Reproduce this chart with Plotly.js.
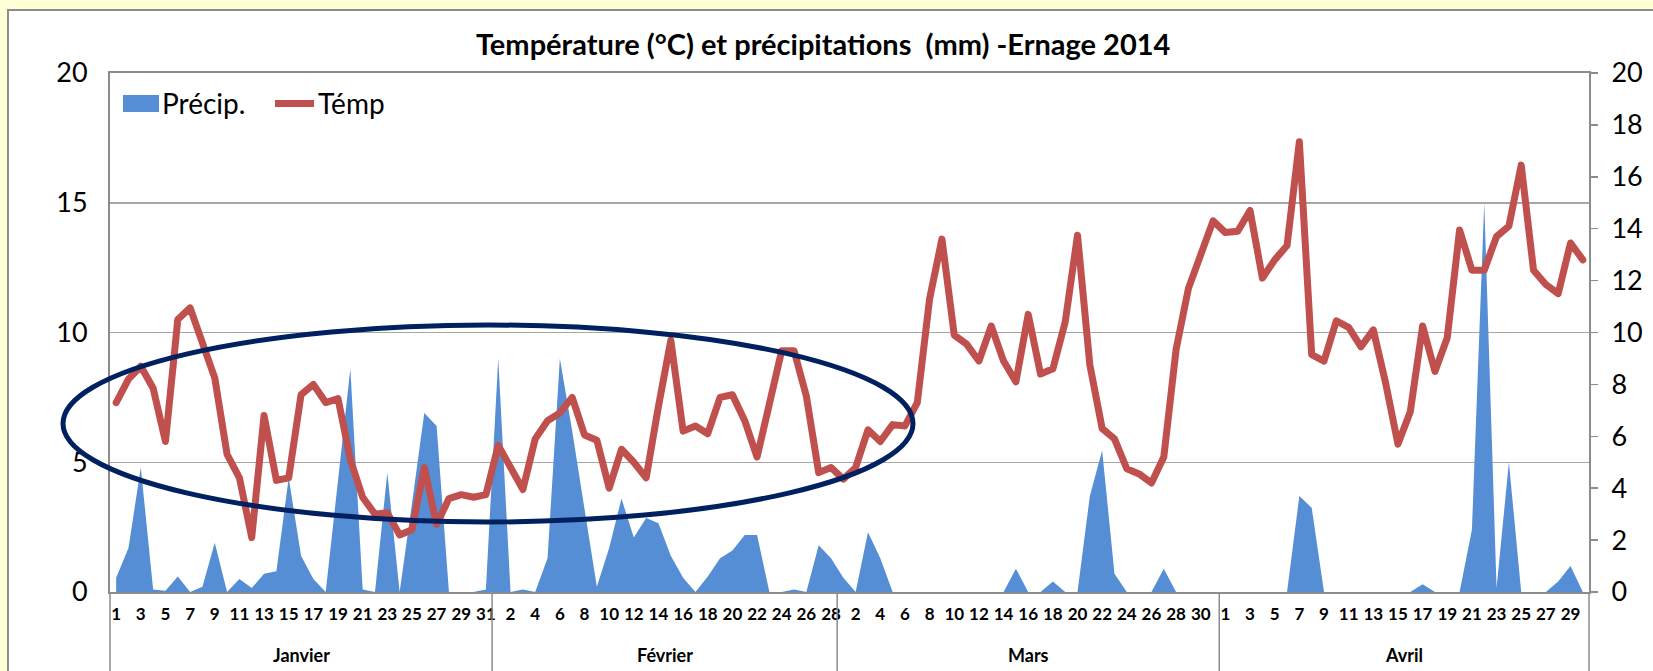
<!DOCTYPE html>
<html>
<head>
<meta charset="utf-8">
<script src="https://cdn.plot.ly/plotly-3.0.1.min.js"></script>
<style>
  html, body { margin: 0; padding: 0; background: #FFFFD5; }
  #chart { width: 1653px; height: 671px; }
  .js-line { stroke-linejoin: round; stroke-linecap: round; }
</style>
</head>
<body>
<div id="chart"></div>
<script>
// ---- Data ----
const months = ['Janvier', 'Février', 'Mars', 'Avril'];
const monthDays = [31, 28, 31, 30];

const tempJan = [7.3, 8.2, 8.7, 7.85, 5.8, 10.5, 10.95, 9.5, 8.25, 5.3, 4.4, 2.1, 6.8, 4.3, 4.4, 7.6, 8.0, 7.3, 7.45, 5.1, 3.65, 3.0, 3.05, 2.2, 2.4, 4.8, 2.6, 3.6, 3.75, 3.65, 3.75];
const tempFeb = [5.65, 4.8, 3.95, 5.9, 6.6, 6.9, 7.5, 6.05, 5.85, 4.0, 5.5, 5.0, 4.4, 7.15, 9.7, 6.2, 6.4, 6.1, 7.5, 7.6, 6.6, 5.2, 7.15, 9.3, 9.3, 7.55, 4.6, 4.8];
const tempMar = [4.35, 4.8, 6.25, 5.8, 6.45, 6.4, 7.3, 11.3, 13.6, 9.9, 9.55, 8.9, 10.25, 8.9, 8.1, 10.7, 8.4, 8.6, 10.4, 13.75, 8.75, 6.3, 5.9, 4.75, 4.55, 4.2, 5.2, 9.35, 11.7, 13.0, 14.3];
const tempApr = [13.85, 13.9, 14.7, 12.1, 12.8, 13.35, 17.35, 9.15, 8.9, 10.45, 10.2, 9.45, 10.1, 8.05, 5.7, 6.95, 10.25, 8.5, 9.8, 13.95, 12.4, 12.4, 13.7, 14.1, 16.45, 12.4, 11.85, 11.5, 13.45, 12.8];

const precJan = [0.55, 1.7, 4.8, 0.1, 0.05, 0.6, 0, 0.2, 1.9, 0, 0.5, 0.15, 0.7, 0.8, 4.4, 1.4, 0.5, 0, 4.3, 8.6, 0.1, 0, 4.6, 0, 3.4, 6.9, 6.4, 0, 0, 0, 0.1];
const precFeb = [9.0, 0, 0.1, 0, 1.3, 9.0, 6.2, 3.2, 0.2, 1.7, 3.6, 2.1, 2.85, 2.65, 1.4, 0.55, 0, 0.6, 1.3, 1.6, 2.2, 2.2, 0, 0, 0.1, 0, 1.8, 1.3];
const precMar = [0.55, 0, 2.3, 1.3, 0, 0, 0, 0, 0, 0, 0, 0, 0, 0, 0.9, 0, 0, 0.4, 0, 0, 3.7, 5.45, 0.7, 0, 0, 0, 0.9, 0, 0, 0, 0];
const precApr = [0, 0, 0, 0, 0, 0, 3.7, 3.25, 0, 0, 0, 0, 0, 0, 0, 0, 0.3, 0, 0, 0, 2.4, 15.0, 0.15, 5.0, 0, 0, 0, 0.4, 1.0, 0];

const temp = [].concat(tempJan, tempFeb, tempMar, tempApr);
const precip = [].concat(precJan, precFeb, precMar, precApr);

// category index and day-of-month labels
const dayLabels = [];
monthDays.forEach(n => { for (let d = 1; d <= n; d++) dayLabels.push(String(d)); });
const N = dayLabels.length;
const xIdx = dayLabels.map((_, i) => i);
const tickVals = xIdx.filter(i => i % 2 === 0);
const tickText = tickVals.map(i => dayLabels[i]);

// ---- Styling constants ----
const W = 1653, H = 671;
const M = { l: 110, r: 64, t: 73, b: 79 };
const PW = W - M.l - M.r, PH = H - M.t - M.b;
const px = x => (x - M.l) / PW;          // pixel -> paper x
const py = y => (H - M.b - y) / PH;      // pixel -> paper y
const FONT = 'Lato, "Open Sans", sans-serif';
const GRAY = '#8C8C8C';
const BLUE = '#558ED5';
const RED = '#C0504D';

// month boundaries
const bounds = [0];
monthDays.forEach(n => bounds.push(bounds[bounds.length - 1] + n));

const shapes = [
  // white chart area
  { type: 'rect', xref: 'paper', yref: 'paper', layer: 'below',
    x0: px(8), x1: px(1700), y0: py(720), y1: py(10),
    fillcolor: 'white', line: { color: GRAY, width: 2 } },
];
bounds.forEach(b => shapes.push({
  type: 'line', xref: 'paper', yref: 'paper', layer: 'above',
  x0: b / N, x1: b / N, y0: 0, y1: py(700),
  line: { color: GRAY, width: 1.5 }
}));
// ellipse highlight
shapes.push({ type: 'circle', xref: 'paper', yref: 'paper', layer: 'above',
  x0: px(63), x1: px(913), y0: py(522), y1: py(325),
  line: { color: '#002060', width: 5 } });
// legend symbols
shapes.push({ type: 'rect', xref: 'paper', yref: 'paper', layer: 'above',
  x0: px(123), x1: px(159), y0: py(112), y1: py(95),
  fillcolor: BLUE, line: { width: 0 } });
shapes.push({ type: 'line', xref: 'paper', yref: 'paper', layer: 'above',
  x0: px(275), x1: px(314), y0: py(103.5), y1: py(103.5),
  line: { color: RED, width: 7 } });

const annotations = [];
months.forEach((m, k) => annotations.push({
  text: m, xref: 'x', yref: 'paper',
  x: bounds[k] + (monthDays[k] - 1) / 2, y: py(655),
  showarrow: false, xanchor: 'center', yanchor: 'middle',
  font: { family: FONT, size: 18, color: '#000', weight: 'bold' }
}));
annotations.push({ text: 'Précip.', xref: 'paper', yref: 'paper', x: px(160), y: py(103),
  xanchor: 'left', yanchor: 'middle', showarrow: false,
  font: { family: FONT, size: 28, color: '#000' } });
annotations.push({ text: 'Témp', xref: 'paper', yref: 'paper', x: px(316), y: py(103),
  xanchor: 'left', yanchor: 'middle', showarrow: false,
  font: { family: FONT, size: 28, color: '#000' } });

const traces = [
  { name: 'Précip.', type: 'scatter', x: xIdx, y: precip, yaxis: 'y',
    mode: 'lines', line: { width: 0, color: BLUE }, fill: 'tozeroy', fillcolor: BLUE,
    hoverinfo: 'y' },
  { name: 'Témp', type: 'scatter', x: xIdx, y: temp, yaxis: 'y2',
    mode: 'lines', line: { width: 7, color: RED }, hoverinfo: 'y' }
];

const layout = {
  width: W, height: H,
  margin: { l: M.l, r: M.r, t: M.t, b: M.b, pad: 0 },
  paper_bgcolor: '#FFFFD5', plot_bgcolor: 'white',
  showlegend: false,
  font: { family: FONT, color: '#000' },
  title: { text: 'Température (°C) et précipitations  (mm) -Ernage 2014',
    font: { family: FONT, size: 29, color: '#000', weight: 'bold' },
    x: 0.498, xanchor: 'center', y: 1 - 45 / H, yanchor: 'middle' },
  xaxis: { range: [-0.5, N - 0.5], tickmode: 'array', tickvals: tickVals, ticktext: tickText,
    tickangle: 0, ticks: '', showgrid: false, zeroline: false,
    showline: true, linecolor: GRAY, linewidth: 2, mirror: true,
    tickfont: { family: FONT, size: 17, color: '#000', weight: 'bold' },
    ticklabelstandoff: 6, fixedrange: true },
  yaxis: { range: [0, 20], tick0: 0, dtick: 5, ticks: '', showgrid: true,
    gridcolor: '#A6A6A6', gridwidth: 1.5, zeroline: false,
    showline: true, linecolor: GRAY, linewidth: 2,
    tickfont: { family: FONT, size: 27, color: '#000' }, ticklabelstandoff: 15, fixedrange: true },
  yaxis2: { range: [0, 20], tick0: 0, dtick: 2, overlaying: 'y', side: 'right',
    ticks: 'outside', ticklen: 7, tickwidth: 1.5, tickcolor: GRAY, showgrid: false, zeroline: false,
    showline: true, linecolor: GRAY, linewidth: 2,
    tickfont: { family: FONT, size: 27, color: '#000' }, ticklabelstandoff: 8, fixedrange: true },
  shapes: shapes,
  annotations: annotations
};

Plotly.newPlot('chart', traces, layout, { displayModeBar: false, staticPlot: true });
</script>
</body>
</html>
